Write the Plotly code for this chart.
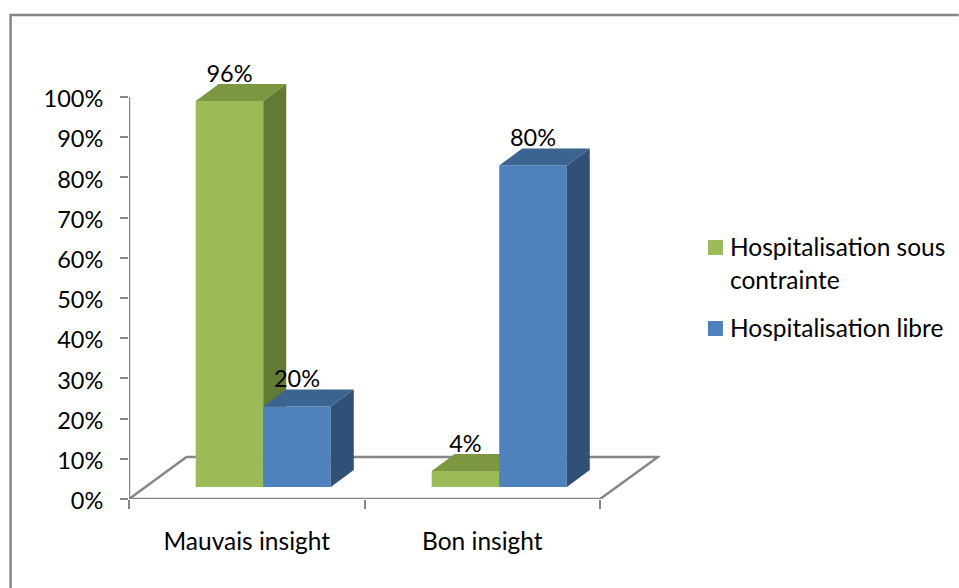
import plotly.graph_objects as go

categories = ["Mauvais insight", "Bon insight"]
contrainte = [96, 4]
libre = [20, 80]
y_ticks = list(range(0, 101, 10))
y_labels = [f"{v}%" for v in y_ticks]
legend_lines = ["Hospitalisation sous", "contrainte", "Hospitalisation libre"]

W, H = 959, 588
L, R, T, B = 128.5, 660, 40, 499
PX_X = 235.75
PX_Y = 4.02
FONT = "Lato"
FS = 24.5
FS_NUM = 23.5
GREY = "#868686"

x_range = [0, (R - L) / PX_X]
y_range = [0, (B - T) / PX_Y]
centers = [0.570, 1.572]
bar_w = 67.6 / PX_X
base = 12 / PX_Y
dx = 23 / PX_X
dy = 17 / PX_Y
label_gap = 25 / PX_Y


def px(x):
    return (x - L) / (R - L)


def py(y):
    return (B - y) / (B - T)


def faces(xc, value, col_top, col_side, xa, ya):
    x0, x1 = xc, xc + bar_w
    y0, y1 = base, base + value
    side = go.Scatter(x=[x1, x1 + dx, x1 + dx, x1, x1], y=[y0, y0 + dy, y1 + dy, y1, y0],
                      fill="toself", fillcolor=col_side, mode="none", hoverinfo="skip",
                      showlegend=False, xaxis=xa, yaxis=ya)
    top = go.Scatter(x=[x0, x0 + dx, x1 + dx, x1, x0], y=[y1, y1 + dy, y1 + dy, y1, y1],
                     fill="toself", fillcolor=col_top, mode="none", hoverinfo="skip",
                     showlegend=False, xaxis=xa, yaxis=ya)
    return [side, top]


fig = go.Figure()

green_x = [c - bar_w / 2 for c in centers]
blue_x = [c + bar_w / 2 for c in centers]

fig.add_trace(go.Bar(x=green_x, y=contrainte, base=base, width=bar_w, marker=dict(color="#9BBB59", line_width=0),
                     name="Hospitalisation sous contrainte", showlegend=False, xaxis="x", yaxis="y"))
for c, v in zip(centers, contrainte):
    for t in faces(c - bar_w, v, "#7C9642", "#617A36", "x", "y"):
        fig.add_trace(t)

fig.add_trace(go.Bar(x=blue_x, y=libre, base=base, width=bar_w, marker=dict(color="#4F81BD", line_width=0),
                     name="Hospitalisation libre", showlegend=False, xaxis="x2", yaxis="y2"))
for c, v in zip(centers, libre):
    for t in faces(c, v, "#3B6491", "#305078", "x2", "y2"):
        fig.add_trace(t)

all_x = green_x + blue_x
all_v = contrainte + libre
fig.add_trace(go.Scatter(x=all_x, y=[v + base + label_gap for v in all_v], mode="text",
                         text=[f"{v}%" for v in all_v], textposition="middle center",
                         textfont=dict(family=FONT, size=FS_NUM, color="#000"),
                         showlegend=False, hoverinfo="skip", xaxis="x2", yaxis="y2"))

line = dict(color=GREY, width=2.5)
floor_dx = 57.5 / PX_X
floor_dy = 42 / PX_Y
floor = f"M 0 0 L {floor_dx} {floor_dy} L {(658 - L) / PX_X} {floor_dy} L 2 0 Z"
frame = f"M {px(10)} {py(588)} L {px(10)} {py(15)} L {px(959)} {py(15)}"
shapes = [
    dict(type="path", path=floor, xref="x", yref="y", line=line, layer="below"),
    dict(type="line", x0=0, x1=0, y0=0, y1=100, xref="x", yref="y", line=line, layer="below"),
    dict(type="path", path=frame, xref="paper", yref="paper",
         line=dict(color=GREY, width=2.5), layer="below"),
    dict(type="rect", x0=px(708), x1=px(723), y0=py(240), y1=py(255), xref="paper", yref="paper",
         line_width=0, fillcolor="#9BBB59"),
    dict(type="rect", x0=px(708), x1=px(723), y0=py(321), y1=py(336), xref="paper", yref="paper",
         line_width=0, fillcolor="#4F81BD"),
]

annotations = [
    dict(x=px(728), y=py(yy), xref="paper", yref="paper", text=t, showarrow=False, xanchor="left",
         yanchor="middle", font=dict(family=FONT, size=FS, color="#000"))
    for t, yy in zip(legend_lines, [246, 279, 327])
]

fig.update_layout(
    width=W, height=H, autosize=False,
    margin=dict(l=L, r=W - R, t=T, b=H - B, pad=0),
    paper_bgcolor="white", plot_bgcolor="rgba(0,0,0,0)",
    barmode="overlay", showlegend=False, shapes=shapes, annotations=annotations,
    font=dict(family=FONT, size=FS, color="#000"),
    xaxis=dict(range=x_range, tickvals=[0.5, 1.5], ticktext=categories, ticks="outside", ticklen=0,
               tickcolor=GREY, showgrid=False, zeroline=False, showline=False, ticklabelstandoff=21,
               tickfont=dict(family=FONT, size=FS, color="#000"),
               minor=dict(tickvals=[0, 1, 2], ticks="outside", ticklen=9, tickcolor=GREY, tickwidth=2, showgrid=False)),
    yaxis=dict(range=y_range, tickvals=y_ticks, ticktext=y_labels, ticks="outside", ticklen=8, tickwidth=2,
               tickcolor=GREY, showgrid=False, zeroline=False, showline=False, ticklabelstandoff=12,
               ticklabelshift=2, tickfont=dict(family=FONT, size=FS_NUM, color="#000")),
    xaxis2=dict(range=x_range, overlaying="x", visible=False),
    yaxis2=dict(range=y_range, overlaying="y", visible=False),
)

fig.write_html("out.html", config=dict(displayModeBar=False),
               post_script="document.body.style.margin='0';document.body.style.overflow='hidden';")
